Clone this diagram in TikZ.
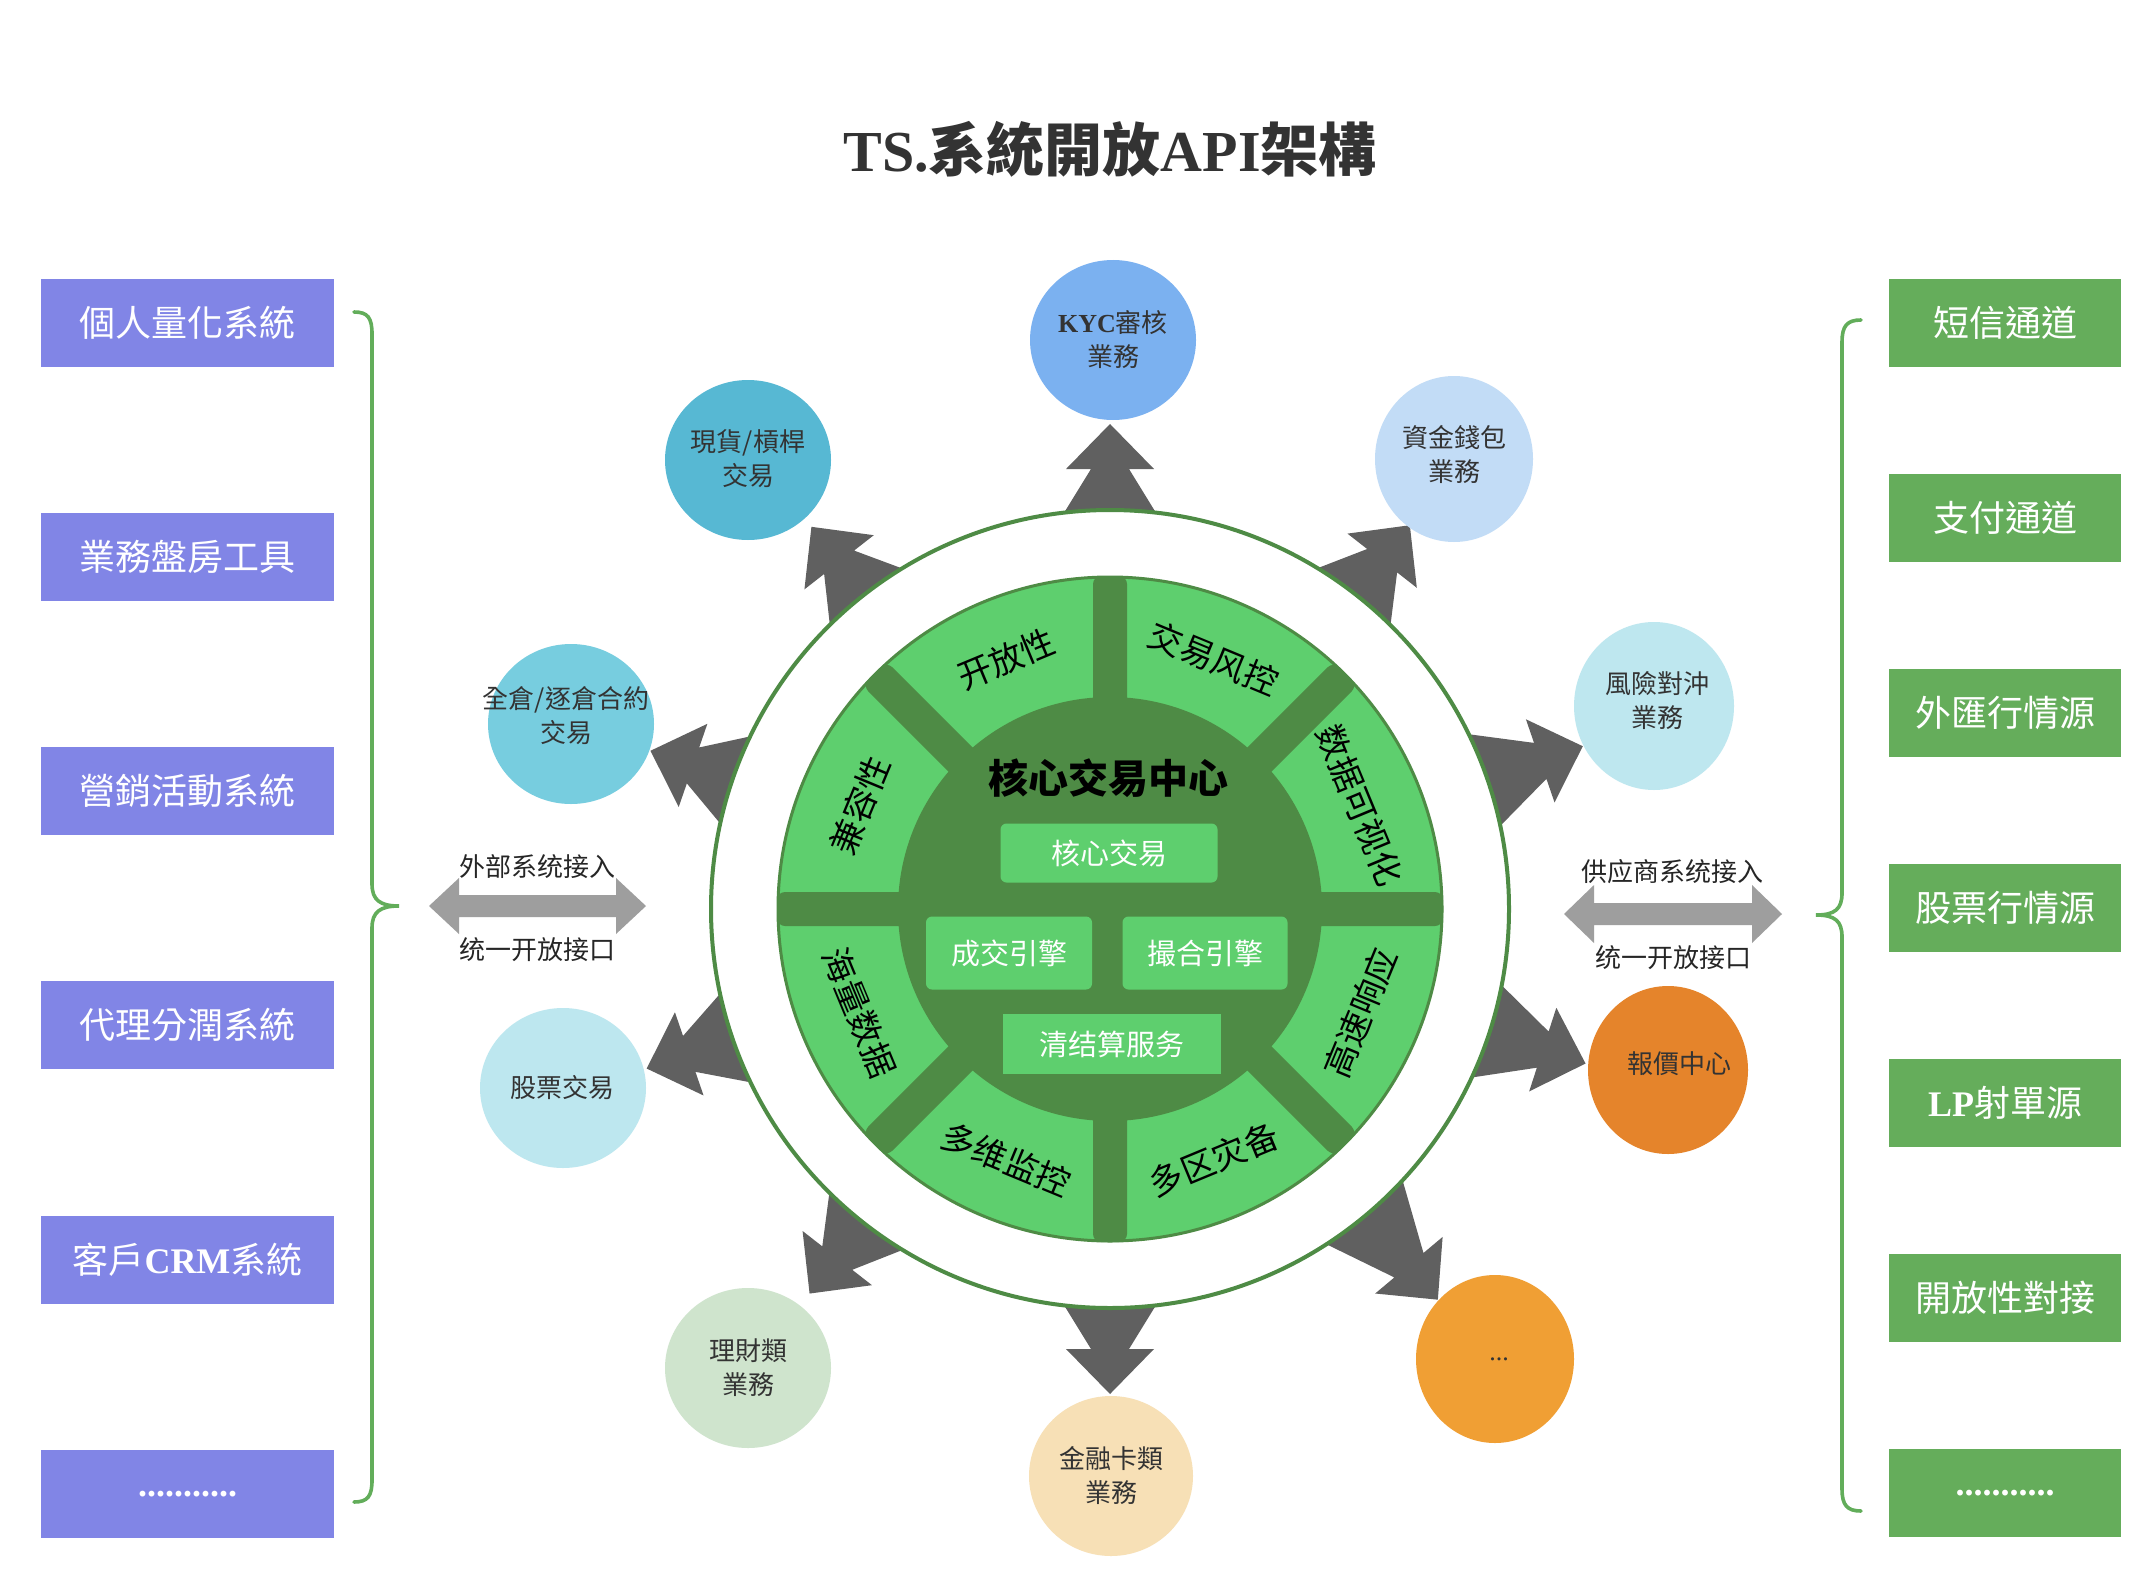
\documentclass[tikz,border=0pt]{standalone}
\usepackage{fontspec}
\setmainfont{Liberation Serif}
\newfontfamily\cjktc{Noto Sans CJK TC}
\newfontfamily\cjksc{Noto Sans CJK SC}
\usetikzlibrary{shapes.geometric}
\definecolor{purplebox}{HTML}{8185E6}
\definecolor{greenbox}{HTML}{65AD5B}
\definecolor{bracegreen}{HTML}{62AD5A}
\definecolor{dblgray}{HTML}{9E9E9E}
\definecolor{arrowgray}{HTML}{606060}
\definecolor{darkgreen}{HTML}{4E8B45}
\definecolor{lightgreen}{HTML}{5ECF6E}
\definecolor{txt}{HTML}{333333}
\definecolor{cKYC}{HTML}{7BB1F0}
\definecolor{cSpot}{HTML}{57B8D3}
\definecolor{cWallet}{HTML}{C2DCF6}
\definecolor{cContract}{HTML}{77CDDF}
\definecolor{cHedge}{HTML}{BEE7EF}
\definecolor{cStock}{HTML}{BDE7EF}
\definecolor{cQuote}{HTML}{E5842B}
\definecolor{cFin}{HTML}{CFE4CD}
\definecolor{cCard}{HTML}{F7E0B6}
\definecolor{cMore}{HTML}{F09F34}
\newcommand{\blockarrow}[2]{%
  \begin{scope}[shift={(core)}, rotate=#1]
    \fill[arrowgray] (375,-59) -- ({#2-45},-19) -- ({#2-45},-44) -- (#2,0)
      -- ({#2-45},44) -- ({#2-45},19) -- (375,59) -- cycle;
  \end{scope}}
\begin{document}
\begin{tikzpicture}[x=0.5pt,y=-0.5pt,
  lbox/.style={fill=purplebox, minimum width=146.5pt, minimum height=44pt, inner sep=0pt,
    text=white, font=\fontsize{18}{20}\selectfont},
  rbox/.style={fill=greenbox, minimum width=116pt, minimum height=44pt, inner sep=0pt,
    text=white, font=\fontsize{18}{20}\selectfont},
  bubble/.style={ellipse, inner sep=0pt, draw=none},
  btext/.style={align=center, text=txt, inner sep=0pt, font=\fontsize{13}{17}\selectfont},
  ibox/.style={fill=lightgreen, inner sep=0pt, text=white, font=\fontsize{14.5}{16}\selectfont},
  seclabel/.style={text=black, inner sep=0pt, font=\fontsize{17}{19}\selectfont\cjksc},
  brace/.style={draw=bracegreen, line width=1.8pt, line cap=round},
  dbl/.style={fill=dblgray},
  arlabel/.style={text=black!85, inner sep=0pt, font=\fontsize{13}{15}\selectfont\cjksc}]
\useasboundingbox (0,0) rectangle (2156,1578);
\fill[white] (0,0) rectangle (2156,1578);

% title
\node[text=txt, font=\fontsize{29}{32}\selectfont\bfseries] (title) at (1110,149)
  {TS.{\cjktc 系統開放}API{\cjktc 架構}};

% left boxes
\node[lbox] (l1) at (187.5,323) {\cjktc 個人量化系統};
\node[lbox] (l2) at (187.5,557) {\cjktc 業務盤房工具};
\node[lbox] (l3) at (187.5,791) {\cjktc 營銷活動系統};
\node[lbox] (l4) at (187.5,1025) {\cjktc 代理分潤系統};
\node[lbox] (l5) at (187.5,1260) {{\cjktc 客戶}\textbf{CRM}{\cjktc 系統}};
\node[lbox] (l6) at (187.5,1494) {\textbf{...........}};

% right boxes
\node[rbox] (r1) at (2005,323) {\cjktc 短信通道};
\node[rbox] (r2) at (2005,518) {\cjktc 支付通道};
\node[rbox] (r3) at (2005,713) {\cjktc 外匯行情源};
\node[rbox] (r4) at (2005,908) {\cjktc 股票行情源};
\node[rbox] (r5) at (2005,1103) {\textbf{LP}{\cjktc 射單源}};
\node[rbox] (r6) at (2005,1298) {\cjktc 開放性對接};
\node[rbox] (r7) at (2005,1493) {\textbf{...........}};

% braces
\draw[brace] (354,312) .. controls (368,312) and (372,318) .. (372,334) -- (372,884)
  .. controls (372,900) and (380,906) .. (399,906)
  .. controls (380,906) and (372,912) .. (372,928) -- (372,1480)
  .. controls (372,1496) and (368,1502) .. (354,1502);
\draw[brace] (1861,320) .. controls (1847,320) and (1842,326) .. (1842,342) -- (1842,893)
  .. controls (1842,909) and (1835,915) .. (1816,915)
  .. controls (1835,915) and (1842,921) .. (1842,937) -- (1842,1489)
  .. controls (1842,1505) and (1847,1511) .. (1861,1511);

% double arrows
\fill[dbl] (429,906) -- (459,878) -- (459,895) -- (616,895) -- (616,878) -- (646,906)
  -- (616,934) -- (616,917) -- (459,917) -- (459,934) -- cycle;
\node[arlabel] (extin) at (537,867) {外部系统接入};
\node[arlabel] (extapi) at (537,950) {统一开放接口};
\fill[dbl] (1564,914) -- (1594,885) -- (1594,903) -- (1752,903) -- (1752,885) -- (1782,914)
  -- (1752,943) -- (1752,925) -- (1594,925) -- (1594,943) -- cycle;
\node[arlabel] (supin) at (1672,872) {供应商系统接入};
\node[arlabel] (supapi) at (1673,958) {统一开放接口};

% centre
\coordinate (core) at (1110,909);
\blockarrow{90}{485}
\blockarrow{52}{487}
\blockarrow{19}{500}
\blockarrow{-18}{500}
\blockarrow{-50}{510}
\blockarrow{-90}{485}
\blockarrow{-128}{488}
\blockarrow{-161}{490}
\blockarrow{161}{486}
\blockarrow{128}{485}

\node[circle, draw=darkgreen, line width=2pt, fill=white, minimum size=399pt, inner sep=0pt]
  (outer) at (core) {};
\fill[lightgreen, draw=darkgreen, line width=1.5pt] (core) circle (166pt);
\foreach \a in {0,45,90,135}{
  \begin{scope}[shift={(core)}, rotate=\a]
    \fill[darkgreen, rounded corners=4pt] (-333,-17) rectangle (333,17);
  \end{scope}}
\fill[darkgreen] (core) circle (106pt);

% sector labels
\node[seclabel, rotate=22.5]  (s1) at ({1110+271*cos(112.5)}, {909-271*sin(112.5)}) {开放性};
\node[seclabel, rotate=-22.5] (s2) at ({1110+271*cos(67.5)},  {909-271*sin(67.5)})  {交易风控};
\node[seclabel, rotate=-67.5] (s3) at ({1110+271*cos(22.5)},  {909-271*sin(22.5)})  {数据可视化};
\node[seclabel, rotate=67.5]  (s4) at ({1110+271*cos(-22.5)}, {909-271*sin(-22.5)}) {高速响应};
\node[seclabel, rotate=22.5]  (s5) at ({1110+271*cos(-67.5)}, {909-271*sin(-67.5)}) {多区灾备};
\node[seclabel, rotate=-22.5] (s6) at ({1110+271*cos(-112.5)},{909-271*sin(-112.5)}) {多维监控};
\node[seclabel, rotate=-67.5] (s7) at ({1110+271*cos(-157.5)},{909-271*sin(-157.5)}) {海量数据};
\node[seclabel, rotate=67.5]  (s8) at ({1110+271*cos(157.5)}, {909-271*sin(157.5)}) {兼容性};

% hub
\node[text=black, font=\fontsize{20}{22}\selectfont\bfseries\cjksc] (hub) at (1108,778) {核心交易中心};
\node[ibox, rounded corners=3pt, minimum width=108.5pt, minimum height=29.5pt] (i1) at (1109,853) {\cjksc 核心交易};
\node[ibox, rounded corners=3pt, minimum width=83pt, minimum height=36.5pt] (i2) at (1009,953) {\cjksc 成交引擎};
\node[ibox, rounded corners=3pt, minimum width=82.5pt, minimum height=36.5pt] (i3) at (1205,953) {\cjksc 撮合引擎};
\node[ibox, minimum width=109pt, minimum height=30pt] (i4) at (1112,1044) {\cjksc 清结算服务};

% bubbles
\node[bubble, fill=cKYC, minimum width=83pt, minimum height=80pt] (kyc) at (1113,340) {};
\node[btext] at (1113,340) {\textbf{KYC}{\cjktc 審核}\\{\cjktc 業務}};
\node[bubble, fill=cSpot, minimum width=83pt, minimum height=80pt] (spot) at (748,460) {};
\node[btext] at (748,459) {\cjktc 現貨/槓桿\\\cjktc 交易};
\node[bubble, fill=cWallet, minimum width=79pt, minimum height=83pt] (wallet) at (1454,459) {};
\node[btext] at (1454,454) {\cjktc 資金錢包\\\cjktc 業務};
\node[bubble, fill=cContract, minimum width=83pt, minimum height=80pt] (contract) at (571,724) {};
\node[btext] at (566,716) {\cjktc 全倉/逐倉合約\\\cjktc 交易};
\node[bubble, fill=cHedge, minimum width=80pt, minimum height=84pt] (hedge) at (1654,706) {};
\node[btext] at (1657,701) {\cjktc 風險對沖\\\cjktc 業務};
\node[bubble, fill=cStock, minimum width=83pt, minimum height=80pt] (stock) at (563,1088) {};
\node[btext] at (562,1088) {\cjktc 股票交易};
\node[bubble, fill=cQuote, minimum width=80pt, minimum height=84pt] (quote) at (1668,1070) {};
\node[btext] at (1679,1064) {\cjktc 報價中心};
\node[bubble, fill=cFin, minimum width=83pt, minimum height=80pt] (fin) at (748,1368) {};
\node[btext] at (748,1368) {\cjktc 理財類\\\cjktc 業務};
\node[bubble, fill=cCard, minimum width=82pt, minimum height=80pt] (card) at (1111,1476) {};
\node[btext] at (1111,1475) {\cjktc 金融卡類\\\cjktc 業務};
\node[bubble, fill=cMore, minimum width=79pt, minimum height=84pt] (more) at (1495,1359) {};
\node[btext] at (1499,1359) {...};
\end{tikzpicture}
\end{document}
